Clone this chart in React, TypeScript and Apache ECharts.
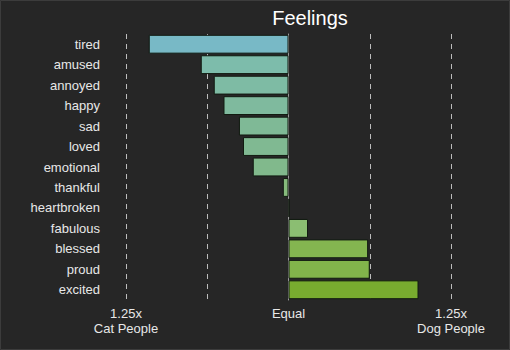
import React, { useEffect, useRef } from "react";
import * as echarts from "echarts";

const categories = ["tired", "amused", "annoyed", "happy", "sad", "loved", "emotional", "thankful", "heartbroken", "fabulous", "blessed", "proud", "excited"];
const values = [-1.72, -1.08, -0.92, -0.8, -0.61, -0.56, -0.44, -0.07, 0.01, 0.24, 0.98, 1.0, 1.6];
const colors = ["#78b9c6", "#7dbcab", "#7ebba4", "#7fba9e", "#7fb996", "#80b992", "#81b98c", "#86bb7c", "#87bb78", "#8bbe72", "#84b550", "#82b44b", "#78ac2f"];
const tickLabels: Record<string, string> = { "-2": "1.25x\nCat People", "0": "Equal", "2": "1.25x\nDog People" };

export default function App() {
  const ref = useRef<HTMLDivElement>(null);
  useEffect(() => {
    const chart = echarts.init(ref.current!, null, { renderer: "svg" });
    chart.setOption({
      animation: false,
      backgroundColor: "#262626",
      graphic: [
        {
          type: "rect",
          shape: { x: 0.5, y: 0.5, width: 509, height: 349 },
          style: { fill: "none", stroke: "#3c3c3c", lineWidth: 1 },
          silent: true,
        },
      ],
      title: {
        text: "Feelings",
        left: 305,
        textAlign: "center",
        top: 3,
        textStyle: { color: "#ffffff", fontSize: 20, fontWeight: "normal", fontFamily: "Liberation Sans" },
      },
      grid: { left: 126, right: 59, top: 34, bottom: 50, containLabel: false },
      xAxis: {
        type: "value",
        min: -2,
        max: 2,
        interval: 1,
        axisLine: { show: false },
        axisTick: { show: false },
        splitLine: { show: true, lineStyle: { color: "#bdbdbd", type: [5, 5], width: 1 } },
        axisLabel: {
          color: "#e8e8e8",
          fontSize: 13,
          fontFamily: "Liberation Sans",
          lineHeight: 15,
          margin: 6,
          formatter: (v: number) => tickLabels[String(v)] ?? "",
        },
      },
      yAxis: {
        type: "category",
        data: categories,
        inverse: true,
        axisLine: { show: true, onZero: true, lineStyle: { color: "#9a9a9a", width: 1 } },
        axisTick: { show: false },
        axisLabel: { color: "#e8e8e8", fontSize: 13, fontFamily: "Liberation Sans", margin: 26 },
      },
      series: [
        {
          type: "bar",
          data: values.map((v, i) => ({ value: v, itemStyle: { color: colors[i] } })),
          barCategoryGap: "8%",
          itemStyle: { borderColor: "#111a10", borderWidth: 1 },
        },
      ],
    });
    return () => chart.dispose();
  }, []);
  return <div ref={ref} style={{ width: 510, height: 350, position: "absolute", left: 0, top: 0 }} />;
}
